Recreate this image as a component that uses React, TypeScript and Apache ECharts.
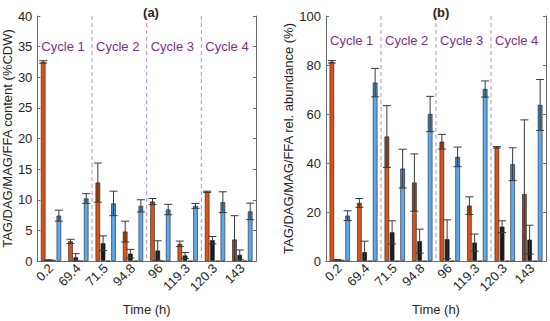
import React, { useEffect, useRef } from "react";
import * as echarts from "echarts";

const CATEGORIES = ["0.2", "69.4", "71.5", "94.8", "96", "119.3", "120.3", "143"];
const CYCLES = ["Cycle 1", "Cycle 2", "Cycle 3", "Cycle 4"];

// Panel (a): content (%CDW)
const TAG_A = [32.5, 3.2, 12.8, 4.8, 9.7, 2.8, 11.3, 3.5];
const TAG_A_ERR = [0.2, 0.35, 3.2, 1.7, 0.5, 0.45, 0.1, 3.9];
const DAG_A = [0.15, 0.6, 2.9, 1.2, 1.7, 0.9, 3.4, 1.0];
const DAG_A_ERR = [0.05, 0.6, 1.2, 0.7, 1.6, 0.5, 0.6, 0.8];
const MAG_A = [0.2, 0, 0, 0, 0, 0, 0, 0];
const FFA_A = [7.4, 10.2, 9.4, 9.0, 8.4, 9.0, 9.6, 8.1];
const FFA_A_ERR = [0.9, 0.8, 2.0, 1.0, 0.85, 0.4, 1.7, 1.35];

// Panel (b): relative abundance (%)
const TAG_B = [81.3, 23.7, 50.8, 32, 48.7, 22.6, 46.4, 27.3];
const TAG_B_ERR = [0.5, 1.8, 12.6, 11.7, 3, 3.6, 0.3, 30.3];
const DAG_B = [0.4, 3.6, 11.7, 8.1, 8.9, 7.5, 14, 8.7];
const DAG_B_ERR = [0.2, 4.5, 4.7, 4.9, 7.9, 3.5, 2.4, 5.9];
const MAG_B = [0.5, 0, 0, 0, 0, 0, 0, 0];
const FFA_B = [18.5, 72.8, 37.7, 60, 42.5, 70.2, 39.5, 63.7];
const FFA_B_ERR = [2, 5.8, 7.9, 7.2, 4, 3.3, 6.7, 10.4];

const Y_A_TICKS = { min: 0, max: 40, interval: 5 };
const Y_B_TICKS = { min: 0, max: 100, interval: 20 };
const CYCLE_LABEL_Y = [35, 90];

const FONT = "'Liberation Sans', Arial, Helvetica, sans-serif";
const TXT = "#262626";
const FRAME = "#6b6b6b";
const COLORS = ["#D95319", "#1A1A1A", "#9a9a9a", "#5AA8EE"];
const CAT_GAP = 0.26;
const BAR_GAP = 0.15;

export default function App() {
  const ref = useRef<HTMLDivElement>(null);
  useEffect(() => {
    if (!ref.current) return;
    const chart = echarts.init(ref.current, undefined, { renderer: "svg" });

    const grids = [
      { left: 36, right: 294, top: 16, bottom: 59 },
      { left: 326, right: 4, top: 16, bottom: 59 },
    ];

    const errRender = (slot: number) => (params: any, api: any) => {
      const ci = api.value(0);
      const v = api.value(1);
      const e = api.value(2);
      const band = api.size([1, 0])[0];
      const barW = (band * (1 - CAT_GAP)) / (4 + 3 * BAR_GAP);
      const off = (slot - 1.5) * barW * (1 + BAR_GAP);
      const c = api.coord([ci, v]);
      const hi = api.coord([ci, v + e]);
      const loVal = v - e;
      const lo = api.coord([ci, Math.max(loVal, 0)]);
      const x = c[0] + off;
      const capW = 4;
      const lineStyle = { stroke: "#3a3a3a", lineWidth: 1 };
      const children: any[] = [
        {
          type: "rect",
          shape: { x: x - barW / 2, y: c[1], width: barW, height: Math.max(lo[1] - c[1], 0) },
          style: { fill: "rgba(0,0,0,0.18)" },
        },
        { type: "line", shape: { x1: x, y1: hi[1], x2: x, y2: lo[1] }, style: lineStyle },
        { type: "line", shape: { x1: x - capW, y1: hi[1], x2: x + capW, y2: hi[1] }, style: lineStyle },
      ];
      if (loVal >= 0) {
        children.push({ type: "line", shape: { x1: x - capW, y1: lo[1], x2: x + capW, y2: lo[1] }, style: lineStyle });
      }
      return { type: "group", children };
    };

    const cycleRender = (labelY: number) => (params: any, api: any) => {
      const i = api.value(0);
      const band = api.size([1, 0])[0];
      const cs = params.coordSys;
      const p = api.coord([i * 2, labelY]);
      const xl = p[0] - band / 2;
      const children: any[] = [
        {
          type: "text",
          style: {
            text: CYCLES[i],
            x: xl + 4,
            y: p[1],
            fill: "#7E2F8E",
            fontSize: 13,
            fontFamily: FONT,
            verticalAlign: "middle",
            align: "left",
          },
        },
      ];
      if (i > 0) {
        children.push({
          type: "line",
          shape: { x1: xl, y1: cs.y, x2: xl, y2: cs.y + cs.height },
          style: { stroke: "#B48CE0", lineWidth: 1, lineDash: [4, 3] },
        });
      }
      return { type: "group", children };
    };

    const xAxes: any[] = [];
    const yAxes: any[] = [];
    [0, 1].forEach((g) => {
      xAxes.push({
        type: "category",
        gridIndex: g,
        data: CATEGORIES,
        name: "Time (h)",
        nameLocation: "middle",
        nameGap: 42,
        nameTextStyle: { fontSize: 13, color: TXT, fontFamily: FONT },
        axisLine: { lineStyle: { color: FRAME } },
        axisTick: { inside: true, length: 3, alignWithLabel: true, lineStyle: { color: FRAME } },
        axisLabel: { rotate: 45, fontSize: 13, color: TXT, fontFamily: FONT, margin: 5 },
      });
    });
    [0, 1].forEach((g) => {
      xAxes.push({
        type: "category",
        gridIndex: g,
        position: "top",
        data: CATEGORIES,
        axisLine: { lineStyle: { color: FRAME } },
        axisTick: { inside: true, length: 3, alignWithLabel: true, lineStyle: { color: FRAME } },
        axisLabel: { show: false },
      });
    });
    const yt = [Y_A_TICKS, Y_B_TICKS];
    const ynames = ["TAG/DAG/MAG/FFA content (%CDW)", "TAG/DAG/MAG/FFA rel. abundance (%)"];
    const ygaps = [20, 29];
    [0, 1].forEach((g) => {
      yAxes.push({
        type: "value",
        gridIndex: g,
        ...yt[g],
        name: ynames[g],
        nameLocation: "middle",
        nameGap: ygaps[g],
        nameTextStyle: { fontSize: 13, color: TXT, fontFamily: FONT },
        splitLine: { show: false },
        axisLine: { show: true, lineStyle: { color: FRAME } },
        axisTick: { show: true, inside: true, length: 3, lineStyle: { color: FRAME } },
        axisLabel: { fontSize: 13, color: TXT, fontFamily: FONT, margin: 5 },
      });
    });
    [0, 1].forEach((g) => {
      yAxes.push({
        type: "value",
        gridIndex: g,
        position: "right",
        ...yt[g],
        splitLine: { show: false },
        axisLine: { show: true, lineStyle: { color: FRAME } },
        axisTick: { show: true, inside: true, length: 3, lineStyle: { color: FRAME } },
        axisLabel: { show: false },
      });
    });

    const panels = [
      { vals: [TAG_A, DAG_A, MAG_A, FFA_A], errs: [TAG_A_ERR, DAG_A_ERR, null, FFA_A_ERR] },
      { vals: [TAG_B, DAG_B, MAG_B, FFA_B], errs: [TAG_B_ERR, DAG_B_ERR, null, FFA_B_ERR] },
    ];
    const names = ["TAG", "DAG", "MAG", "FFA"];
    const series: any[] = [];
    panels.forEach((p, g) => {
      p.vals.forEach((vals, s) => {
        series.push({
          type: "bar",
          name: names[s],
          xAxisIndex: g,
          yAxisIndex: g,
          data: vals,
          barCategoryGap: `${CAT_GAP * 100}%`,
          barGap: `${BAR_GAP * 100}%`,
          itemStyle: { color: COLORS[s], borderColor: "#222", borderWidth: 0.6 },
          z: 2,
        });
      });
      p.errs.forEach((errs, s) => {
        if (!errs) return;
        series.push({
          type: "custom",
          xAxisIndex: g,
          yAxisIndex: g,
          data: p.vals[s].map((v, i) => [i, v, errs[i]]),
          renderItem: errRender(s),
          z: 3,
          silent: true,
        });
      });
      series.push({
        type: "custom",
        xAxisIndex: g,
        yAxisIndex: g,
        data: CYCLES.map((_, i) => [i]),
        renderItem: cycleRender(CYCLE_LABEL_Y[g]),
        z: 1,
        silent: true,
      });
    });

    chart.setOption({
      animation: false,
      backgroundColor: "#ffffff",
      title: [
        { text: "(a)", left: 146, top: 1, textAlign: "center", textStyle: { fontSize: 13, fontWeight: "bold", color: TXT, fontFamily: FONT } },
        { text: "(b)", left: 436, top: 1, textAlign: "center", textStyle: { fontSize: 13, fontWeight: "bold", color: TXT, fontFamily: FONT } },
      ],
      grid: grids,
      xAxis: xAxes,
      yAxis: yAxes,
      series,
    });
    return () => chart.dispose();
  }, []);
  return <div ref={ref} style={{ position: "fixed", left: 0, top: 0, width: 550, height: 321 }} />;
}
